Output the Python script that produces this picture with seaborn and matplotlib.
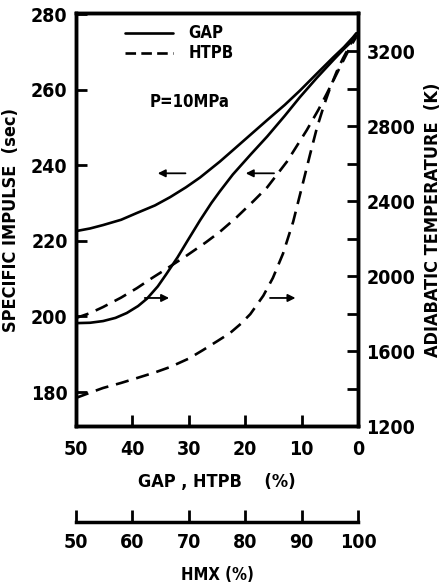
import matplotlib
matplotlib.use("Agg")
import matplotlib.pyplot as plt
import seaborn as sns

# binder content (%) and the read-off curves
gap_x_isp = [50, 47.5, 45.2, 42, 39.2, 36, 33.3, 30.5, 28, 24.5, 22.2, 19, 16.1, 13, 10.3, 7.3, 4.4, 2.5, 0.9, 0.3]
gap_isp = [222.6, 223.3, 224.2, 225.6, 227.4, 229.4, 231.6, 234.2, 236.8, 241.0, 244.0, 248.2, 252.0, 256.0, 259.8, 264.3, 268.6, 271.3, 273.9, 275.0]
htpb_x_isp = [50, 47.5, 45.2, 42, 39.2, 36.5, 34.6, 30.3, 27, 24.5, 21.5, 18.5, 16.1, 12.6, 9.1, 7, 5.5, 3.2, 1.4, 0.4]
htpb_isp = [199.6, 200.9, 202.5, 205.0, 207.5, 210.2, 212.0, 216.2, 219.6, 222.4, 226.3, 230.6, 234.2, 241.0, 249.3, 254.8, 259.1, 266.0, 271.3, 273.8]
gap_x_t = [50, 47.5, 45.2, 43, 41, 39, 37.4, 35.5, 34, 32, 30.3, 28, 26, 24.5, 22.2, 19, 16.1, 13, 10.3, 7.3, 4.4, 2.5, 0.9, 0.3]
gap_t = [1749, 1751, 1760, 1777, 1803, 1840, 1880, 1945, 2010, 2100, 2185, 2298, 2390, 2452, 2542, 2650, 2745, 2855, 2955, 3058, 3152, 3212, 3259, 3280]
htpb_x_t = [50, 47.5, 45.2, 42, 39.2, 36, 33.3, 30, 27.5, 25, 22.7, 20.8, 19.1, 16.8, 15.1, 13.3, 11.5, 9.7, 8.5, 7.3, 6, 5, 3.8, 2.7, 1.1, 0.4]
htpb_t = [1350, 1378, 1403, 1430, 1456, 1486, 1515, 1560, 1605, 1652, 1696, 1745, 1797, 1895, 1990, 2120, 2290, 2505, 2650, 2790, 2915, 3000, 3090, 3160, 3250, 3275]

x_ticks = [50, 40, 30, 20, 10, 0]
isp_ticks = [180, 200, 220, 240, 260, 280]
t_ticks = [1200, 1600, 2000, 2400, 2800, 3200]
t_minor = [1400, 1800, 2200, 2600, 3000]
hmx_ticks = [50, 60, 70, 80, 90, 100]

sns.set_style("ticks")
plt.rcParams["font.family"] = ["Liberation Sans Narrow", "DejaVu Sans"]
plt.rcParams["font.stretch"] = "condensed"
plt.rcParams["font.weight"] = "bold"
for k in ("text.color", "axes.labelcolor", "xtick.color", "ytick.color", "axes.edgecolor"):
    plt.rcParams[k] = "black"
fs = 14

fig = plt.figure(figsize=(4.47, 5.84), dpi=100)
ax = fig.add_axes([0.170, 0.2705, 0.631, 0.707])
ax2 = ax.twinx()

kw = dict(color="black", linewidth=1.9, sort=False)
dash = (0, (5, 3))
sns.lineplot(x=gap_x_isp, y=gap_isp, ax=ax, **kw)
sns.lineplot(x=htpb_x_isp, y=htpb_isp, ax=ax, linestyle=dash, **kw)
sns.lineplot(x=gap_x_t, y=gap_t, ax=ax2, **kw)
sns.lineplot(x=htpb_x_t, y=htpb_t, ax=ax2, linestyle=dash, **kw)

ax.set_xlim(50, 0)
ax.set_ylim(171, 280.3)
ax2.set_ylim(1200, 3403)
ax.set_xticks(x_ticks)
ax.set_yticks(isp_ticks)
ax2.set_yticks(t_ticks)
ax2.set_yticks(t_minor, minor=True)
for a in (ax, ax2):
    for s in a.spines.values():
        s.set_linewidth(2.5)
    a.tick_params(direction="in", length=8, width=2, labelsize=fs, pad=6)
    a.tick_params(which="minor", direction="in", length=8, width=2)
ax.tick_params(axis="x", pad=10)
ax2.tick_params(axis="x", top=False)

ax.set_xlabel("GAP , HTPB    (%)", fontsize=fs - 1, fontweight="bold", labelpad=10)
ax.set_ylabel("SPECIFIC IMPULSE  (sec)", fontsize=fs - 1, fontweight="bold", labelpad=8)
ax2.set_ylabel("ADIABATIC TEMPERATURE  (K)", fontsize=fs - 1, fontweight="bold", labelpad=6)

# legend
ax.plot([41.3, 32.8], [275.0, 275.0], color="black", lw=1.9)
ax.plot([41.3, 32.8], [269.7, 269.7], color="black", lw=1.9, linestyle=(0, (4, 2)))
ax.text(30.1, 275.0, "GAP", fontsize=fs - 2, fontweight="bold", va="center")
ax.text(30.1, 269.7, "HTPB", fontsize=fs - 2, fontweight="bold", va="center")
ax.text(37, 256.7, "P=10MPa", fontsize=fs - 2, fontweight="bold", va="center")

# arrows pointing at their axis
arr = dict(arrowstyle="-|>", color="black", lw=1.3, mutation_scale=11)
ax.annotate("", xy=(36.0, 237.9), xytext=(30.1, 237.9), arrowprops=arr)
ax.annotate("", xy=(20.4, 237.9), xytext=(14.4, 237.9), arrowprops=arr)
ax.annotate("", xy=(33.0, 204.9), xytext=(38.3, 204.9), arrowprops=arr)
ax.annotate("", xy=(10.6, 204.9), xytext=(16.1, 204.9), arrowprops=arr)

# HMX scale below
ax3 = fig.add_axes([0.170, 0.106, 0.631, 0.05])
ax3.set_xlim(50, 100)
ax3.set_xticks(hmx_ticks)
ax3.set_yticks([])
for k in ("top", "left", "right"):
    ax3.spines[k].set_visible(False)
ax3.spines["bottom"].set_linewidth(2.5)
ax3.patch.set_alpha(0)
ax3.tick_params(axis="x", direction="in", length=9, width=2, labelsize=fs, pad=8)
ax3.set_xlabel("HMX (%)", fontsize=fs - 2, fontweight="bold", labelpad=10)

fig.savefig("out.png", dpi=100)
